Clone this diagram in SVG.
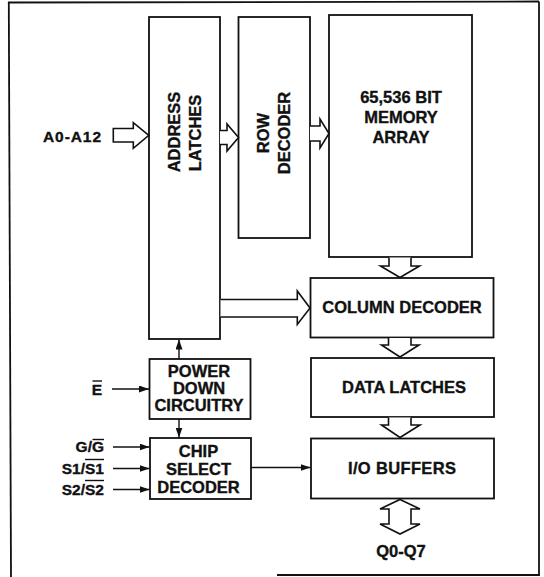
<svg xmlns="http://www.w3.org/2000/svg" width="544" height="577" viewBox="0 0 544 577">
  <style>
    .frame { fill: none; stroke: #111; stroke-width: 1.8; }
    .box { fill: #fff; stroke: #111; stroke-width: 1.8; }
    .t { font-family: "Liberation Sans", Arial, Helvetica, sans-serif; font-weight: bold; font-size: 16.5px; fill: #111; stroke: #111; stroke-width: 0.35px; text-anchor: middle; }
    .lbl { font-family: "Liberation Sans", Arial, Helvetica, sans-serif; font-weight: bold; font-size: 15.5px; fill: #111; stroke: #111; stroke-width: 0.35px; text-anchor: end; }
    .bar { stroke: #111; stroke-width: 1.4; }
    .hol { fill: #fff; stroke: #111; stroke-width: 1.6; stroke-linejoin: miter; }
    .thin { fill: none; stroke: #111; stroke-width: 1.4; marker-end: url(#ah); }
  </style>
  <defs>
    <marker id="ah" markerUnits="userSpaceOnUse" viewBox="0 0 10 7" refX="10" refY="3.5" markerWidth="10" markerHeight="7" orient="auto">
      <path d="M0,0 L10,3.5 L0,7 Z" fill="#111"/>
    </marker>
  </defs>

  <rect width="544" height="577" fill="#fff"/>

  <g id="frame">
    <line class="frame" x1="8" y1="2.5" x2="539" y2="1.5"/>
    <line class="frame" x1="8.8" y1="2" x2="11" y2="577"/>
    <line class="frame" x1="539" y1="1.5" x2="539" y2="575.5"/>
    <line class="frame" x1="277" y1="575" x2="539.9" y2="575"/>
  </g>

  <g id="address-latches">
    <rect class="box" x="149" y="17" width="71" height="322"/>
    <text class="t" transform="translate(179.9,132) rotate(-90)">ADDRESS</text>
    <text class="t" transform="translate(200.9,133) rotate(-90)">LATCHES</text>
  </g>

  <g id="row-decoder">
    <rect class="box" x="238.5" y="17" width="71.5" height="221"/>
    <text class="t" transform="translate(269.4,133) rotate(-90)">ROW</text>
    <text class="t" transform="translate(290.4,133) rotate(-90)">DECODER</text>
  </g>

  <g id="memory-array">
    <rect class="box" x="329" y="15" width="143" height="242"/>
    <text class="t" x="401" y="102.6">65,536 BIT</text>
    <text class="t" x="401" y="122.6">MEMORY</text>
    <text class="t" x="401" y="142.6">ARRAY</text>
  </g>

  <g id="column-decoder">
    <rect class="box" x="310.5" y="278" width="183" height="59.5"/>
    <text class="t" x="402" y="313">COLUMN DECODER</text>
  </g>

  <g id="data-latches">
    <rect class="box" x="311" y="358" width="183" height="59"/>
    <text class="t" x="404" y="393">DATA LATCHES</text>
  </g>

  <g id="io-buffers">
    <rect class="box" x="311" y="438.5" width="183" height="60"/>
    <text class="t" x="402" y="473.5" textLength="108" lengthAdjust="spacing">I/O BUFFERS</text>
  </g>

  <g id="power-down-circuitry">
    <rect class="box" x="149.5" y="359" width="101" height="60"/>
    <text class="t" x="199" y="377.4">POWER</text>
    <text class="t" x="199" y="394.4">DOWN</text>
    <text class="t" x="199" y="411.4">CIRCUITRY</text>
  </g>

  <g id="chip-select-decoder">
    <rect class="box" x="150" y="438" width="101" height="61"/>
    <text class="t" x="198.5" y="457">CHIP</text>
    <text class="t" x="198.5" y="475">SELECT</text>
    <text class="t" x="198.5" y="493">DECODER</text>
  </g>

  <g id="label-a0-a12">
    <text class="lbl" x="101" y="141.5" font-size="16" textLength="58" lengthAdjust="spacing">A0-A12</text>
  </g>
  <g id="label-e">
    <text class="lbl" x="102" y="394.5">E</text>
    <line class="bar" x1="92.5" y1="381" x2="102" y2="381"/>
  </g>
  <g id="label-g">
    <text class="lbl" x="104" y="452">G/G</text>
    <line class="bar" x1="92.5" y1="439.5" x2="104" y2="439.5"/>
  </g>
  <g id="label-s1">
    <text class="lbl" x="104" y="474">S1/S1</text>
    <line class="bar" x1="85" y1="459.5" x2="104" y2="459.5"/>
  </g>
  <g id="label-s2">
    <text class="lbl" x="104" y="494.5">S2/S2</text>
    <line class="bar" x1="85" y1="480.5" x2="104" y2="480.5"/>
  </g>
  <g id="label-q0-q7">
    <text class="t" x="401" y="557.3" font-size="15.5">Q0-Q7</text>
  </g>

  <g id="connectors">
    <!-- hollow bus arrows -->
    <path class="hol" d="M148.8,135.3 L133.3,122.7 V128.5 H113.3 V142 H133.3 V148.3 Z"/>
    <path class="hol" d="M220,130.5 H227 V124 L238.5,137.5 L227,151 V144.5 H220"/>
    <path class="hol" d="M310,126 H320 V119 L329,133.5 L320,148 V141 H310"/>
    <path class="hol" d="M220.5,299.5 H297.3 V291 L310,308 L297.3,324.5 V317 H220.5"/>
    <path class="hol" d="M389,257.5 V266 H380.5 L400,277.5 L419.5,266 H411 V257.5"/>
    <path class="hol" d="M388.5,338 V345 H381.5 L400,357 L419,345 H411 V338"/>
    <path class="hol" d="M388.5,417.5 V425 H381.5 L400,437.5 L420,425 H411 V417.5"/>
    <path class="hol" d="M400,499.5 L420,509 H411 V524 H420 L400,534 L380,524 H389 V509 H380 Z"/>
    <!-- thin control arrows -->
    <line class="thin" x1="179" y1="359" x2="179" y2="339.5"/>
    <line class="thin" x1="179" y1="419" x2="179" y2="437.5"/>
    <line class="thin" x1="112" y1="389" x2="149" y2="389"/>
    <line class="thin" x1="113" y1="447" x2="149.5" y2="447"/>
    <line class="thin" x1="113" y1="468.5" x2="149.5" y2="468.5"/>
    <line class="thin" x1="113" y1="489.5" x2="149.5" y2="489.5"/>
    <line class="thin" x1="251" y1="467.5" x2="310.5" y2="467.5"/>
  </g>
</svg>
